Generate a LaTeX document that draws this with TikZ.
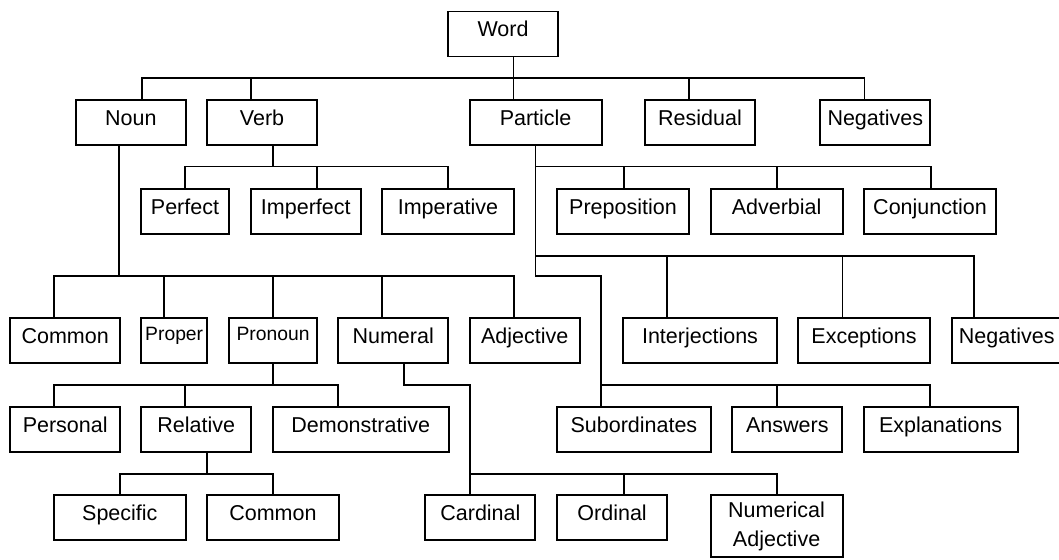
\documentclass[tikz,border=0pt]{standalone}
\usepackage{fontspec}
\setmainfont{Liberation Sans}
\begin{document}
\begin{tikzpicture}[
    x=1pt, y=-1pt,
    box/.style={draw, line width=1.9pt, inner xsep=0pt, inner ysep=5pt,
        minimum height=45pt, text height=20pt, text depth=15pt,
        font=\fontsize{21.5pt}{29pt}\selectfont},
    smallbox/.style={box, text height=17.5pt, text depth=17.5pt,
        font=\fontsize{19.3pt}{24pt}\selectfont},
    link/.style={line width=1.9pt, line cap=rect}
    ]
    \useasboundingbox (0,0) rectangle (1059,559);

    % Koren
    \node[box, minimum width=110pt] (word) at (503,34) {Word};

    % Prvni uroven
    \node[box, minimum width=110pt] (noun) at (130.8,122.5) {Noun};
    \node[box, minimum width=110pt] (verb) at (262,122.5) {Verb};
    \node[box, minimum width=132pt] (particle) at (535.6,122.5) {Particle};
    \node[box, minimum width=110pt] (residual) at (700,122.5) {Residual};
    \node[box, minimum width=110pt] (negtop) at (875.3,122.5) {Negatives};

    % Druha uroven
    \node[box, minimum width=88pt] (perfect) at (185,211.5) {Perfect};
    \node[box, minimum width=110pt] (imperfect) at (305.8,211.5) {Imperfect};
    \node[box, minimum width=132pt] (imperative) at (448,211.5) {Imperative};
    \node[box, minimum width=132pt] (preposition) at (623,211.5) {Preposition};
    \node[box, minimum width=132pt] (adverbial) at (776.6,211.5) {Adverbial};
    \node[box, minimum width=132pt] (conjunction) at (930,211.5) {Conjunction};

    % Treti uroven
    \node[box, minimum width=110pt] (common) at (65.2,340.5) {Common};
    \node[smallbox, minimum width=66pt] (proper) at (174.2,340.5) {Proper};
    \node[smallbox, minimum width=88pt] (pronoun) at (273.1,340.5) {Pronoun};
    \node[box, minimum width=110pt] (numeral) at (393.2,340.5) {Numeral};
    \node[box, minimum width=110pt] (adjective) at (524.7,340.5) {Adjective};
    \node[box, minimum width=154pt] (interjections) at (700,340.5) {Interjections};
    \node[box, minimum width=132pt] (exceptions) at (864,340.5) {Exceptions};
    \node[box, minimum width=110pt] (negbot) at (1006.7,340.5) {Negatives};

    % Ctvrta uroven
    \node[box, minimum width=110pt] (personal) at (65.2,429.5) {Personal};
    \node[box, minimum width=110pt] (relative) at (196.2,429.5) {Relative};
    \node[box, minimum width=176pt] (demonstrative) at (360.7,429.5) {Demonstrative};
    \node[box, minimum width=154pt] (subordinates) at (633.9,429.5) {Subordinates};
    \node[box, minimum width=110pt] (answers) at (787.3,429.5) {Answers};
    \node[box, minimum width=154pt] (explanations) at (940.7,429.5) {Explanations};

    % Pata uroven
    \node[box, minimum width=132pt] (specific) at (119.8,517.6) {Specific};
    \node[box, minimum width=132pt] (commonrel) at (272.9,517.6) {Common};
    \node[box, minimum width=110pt] (cardinal) at (480.4,517.6) {Cardinal};
    \node[box, minimum width=110pt] (ordinal) at (612.1,517.6) {Ordinal};
    \node[box, minimum width=132pt, minimum height=62pt, text height={},
        text depth={}, align=center] (numadj) at (776.6,526.1)
        {Numerical\\Adjective};

    % Word -> prvni uroven
    \draw[link] (513.5,0 |- word.south) -- (513.5,0 |- particle.north);
    \draw[link] (142,78.4) -- (864.5,78.4);
    \foreach \x/\n in {142/noun, 251/verb, 689/residual, 864.5/negtop}
        \draw[link] (\x,78.4) -- (\x,0 |- \n.north);

    % Verb
    \draw[link] (273,0 |- verb.south) -- (273,166.5);
    \draw[link] (185,166.5) -- (448.3,166.5);
    \foreach \x/\n in {185/perfect, 317/imperfect, 448.3/imperative}
        \draw[link] (\x,166.5) -- (\x,0 |- \n.north);

    % Particle
    \draw[link] (535.5,0 |- particle.south) -- (535.5,276) -- (601,276)
        -- (601,0 |- subordinates.north);
    \draw[link] (535.5,166.5) -- (930.7,166.5);
    \foreach \x/\n in {623.6/preposition, 776.6/adverbial, 930.7/conjunction}
        \draw[link] (\x,166.5) -- (\x,0 |- \n.north);
    \draw[link] (535.5,255.7) -- (973.6,255.7);
    \foreach \x/\n in {666.8/interjections, 842.5/exceptions, 973.6/negbot}
        \draw[link] (\x,255.7) -- (\x,0 |- \n.north);
    \draw[link] (601,384.7) -- (930.3,384.7);
    \foreach \x/\n in {776.6/answers, 930.3/explanations}
        \draw[link] (\x,384.7) -- (\x,0 |- \n.north);

    % Noun
    \draw[link] (119.3,0 |- noun.south) -- (119.3,276);
    \draw[link] (54,276) -- (514,276);
    \foreach \x/\n in {54/common, 164/proper, 273/pronoun, 382.4/numeral, 514/adjective}
        \draw[link] (\x,276) -- (\x,0 |- \n.north);

    % Pronoun
    \draw[link] (273,0 |- pronoun.south) -- (273,384.7);
    \draw[link] (54,384.7) -- (338,384.7);
    \foreach \x/\n in {54/personal, 185/relative, 338/demonstrative}
        \draw[link] (\x,384.7) -- (\x,0 |- \n.north);

    % Relative
    \draw[link] (207.4,0 |- relative.south) -- (207.4,473.6);
    \draw[link] (120,473.6) -- (273,473.6);
    \foreach \x/\n in {120/specific, 273/commonrel}
        \draw[link] (\x,473.6) -- (\x,0 |- \n.north);

    % Numeral
    \draw[link] (403.7,0 |- numeral.south) -- (403.7,384.7) -- (469.6,384.7)
        -- (469.6,473.6);
    \draw[link] (469.6,473.6) -- (777,473.6);
    \foreach \x/\n in {469.6/cardinal, 623.6/ordinal, 777/numadj}
        \draw[link] (\x,473.6) -- (\x,0 |- \n.north);

\end{tikzpicture}
\end{document}
